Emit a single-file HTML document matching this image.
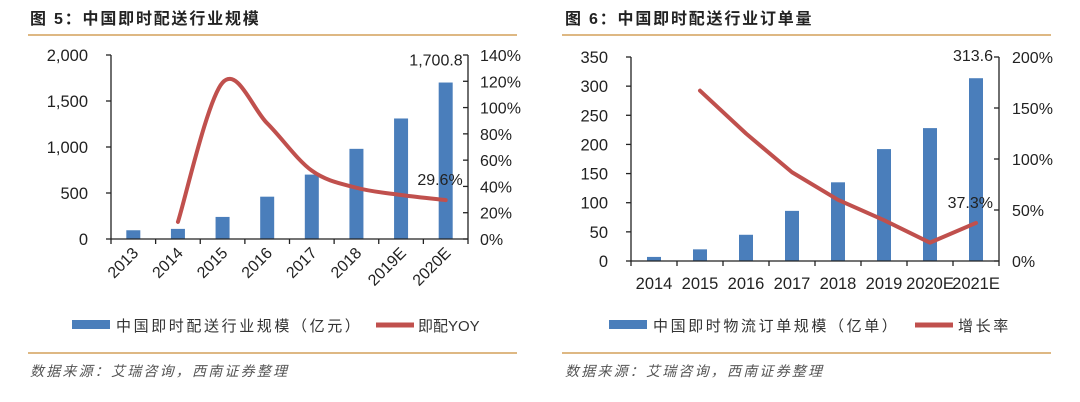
<!DOCTYPE html>
<html><head><meta charset="utf-8"><style>
body{margin:0;background:#fff;}
svg{display:block;font-family:"Liberation Sans","Noto Sans CJK SC",sans-serif;}
</style></head><body>
<svg id="s" width="1080" height="402" viewBox="0 0 1080 402">
<g>
<text x="30" y="24" font-size="16" font-weight="bold" letter-spacing="1.8" fill="#222">图 5：中国即时配送行业规模</text>
<line x1="28" y1="35" x2="517" y2="35" stroke="#d4a05a" stroke-width="1.5"/>
<line x1="28" y1="353" x2="517" y2="353" stroke="#d4a05a" stroke-width="1.5"/>
<text x="30" y="376" font-size="14" font-style="italic" letter-spacing="2.2" fill="#555">数据来源：艾瑞咨询，西南证券整理</text>
<rect x="72" y="320" width="38" height="9" fill="#4a7ebb"/>
<text x="116" y="331" font-size="15" letter-spacing="2.6" fill="#333">中国即时配送行业规模（亿元）</text>
<line x1="376" y1="325" x2="414" y2="325" stroke="#c0504d" stroke-width="5"/>
<text x="418" y="331" font-size="15" fill="#333">即配YOY</text>
</g>
<g>
<text x="565" y="24" font-size="16" font-weight="bold" letter-spacing="1.8" fill="#222">图 6：中国即时配送行业订单量</text>
<line x1="562" y1="35" x2="1051" y2="35" stroke="#d4a05a" stroke-width="1.5"/>
<line x1="562" y1="353" x2="1051" y2="353" stroke="#d4a05a" stroke-width="1.5"/>
<text x="565" y="376" font-size="14" font-style="italic" letter-spacing="2.2" fill="#555">数据来源：艾瑞咨询，西南证券整理</text>
<rect x="609" y="320" width="38" height="9" fill="#4a7ebb"/>
<text x="653" y="331" font-size="15" letter-spacing="2.6" fill="#333">中国即时物流订单规模（亿单）</text>
<line x1="915" y1="325" x2="953" y2="325" stroke="#c0504d" stroke-width="5"/>
<text x="958" y="331" font-size="15" letter-spacing="2.6" fill="#333">增长率</text>
</g>
</svg>
<script>
const cats1=["2013","2014","2015","2016","2017","2018","2019E","2020E"];
const bars1=[95,110,240,460,700,980,1310,1700.8];
const yoy1=[null,13,119,88,52,39,33.5,29.6];
const leftTicks1=[0,500,1000,1500,2000];
const leftTickLabels1=["0","500","1,000","1,500","2,000"];
const rightTicks1=[0,20,40,60,80,100,120,140];

const cats2=["2014","2015","2016","2017","2018","2019","2020E","2021E"];
const bars2=[7,20,45,86,135,192,228,313.6];
const yoy2=[null,167,125,87,60,40,18,37.3];
const leftTicks2=[0,50,100,150,200,250,300,350];
const rightTicks2=[0,50,100,150,200];

const svg=document.getElementById('s');
const NS='http://www.w3.org/2000/svg';
function mk(tag,attrs,parent){const e=document.createElementNS(NS,tag);for(const k in attrs)e.setAttribute(k,attrs[k]);(parent||svg).appendChild(e);return e;}
function txt(x,y,s,size,anchor,parent){const t=mk('text',{x:x,y:y,'font-size':size,'text-anchor':anchor,fill:'#222'},parent);t.textContent=s;return t;}

function chart(o){
  const g=mk('g',{});
  
  
  const n=o.cats.length, cw=(o.x1-o.x0)/n;
  const xc=i=>o.x0+cw*(i+0.5);
  const yL=v=>o.yb-(v/o.lmax)*(o.yb-o.yt);
  const yR=v=>o.yb-(v/o.rmax)*(o.yb-o.yt);
  o.bars.forEach((v,i)=>{
    const r=mk('rect',{x:xc(i)-7,y:yL(v),width:14,height:o.yb-yL(v),fill:'#4a7ebb'},g);
    
    
  });
  const ax=mk('g',{stroke:'#222','stroke-width':1.3},g);
  
  
  mk('line',{x1:o.x0,y1:o.yt,x2:o.x0,y2:o.yb},ax);
  mk('line',{x1:o.x1,y1:o.yt,x2:o.x1,y2:o.yb},ax);
  mk('line',{x1:o.x0,y1:o.yb,x2:o.x1,y2:o.yb},ax);
  for(let i=0;i<=n;i++){const x=o.x0+cw*i;mk('line',{x1:x,y1:o.yb,x2:x,y2:o.yb+5},ax);}
  o.lt.forEach((v,i)=>{mk('line',{x1:o.x0-5,y1:yL(v),x2:o.x0,y2:yL(v)},ax);
    const t=txt(o.x0-23,yL(v)+6,o.ltl[i],16.5,'end',g);
    
    });
  o.rt.forEach(v=>{mk('line',{x1:o.x1-5,y1:yR(v),x2:o.x1,y2:yR(v)},ax);
    const t=txt(o.x1+o.rgap,yR(v)+6,v+'%',16,'start',g);
    
    });
  o.cats.forEach((c,i)=>{
    let t;
    if(o.rot){t=txt(xc(i)+6,o.yb+15,c,16,'end',g);t.setAttribute('transform','rotate(-45 '+(xc(i)+6)+' '+(o.yb+15)+')');}
    else t=txt(xc(i),o.yb+28,c,16.5,'middle',g);
    
    
  });
  const pts=[];o.yoy.forEach((v,i)=>{if(v!==null)pts.push([xc(i),yR(v)]);});
  let d='M'+pts[0][0]+','+pts[0][1];
  for(let i=0;i<pts.length-1;i++){
    if(o.smooth){
      const p0=pts[Math.max(i-1,0)],p1=pts[i],p2=pts[i+1],p3=pts[Math.min(i+2,pts.length-1)];
      const c1=[p1[0]+(p2[0]-p0[0])/6,p1[1]+(p2[1]-p0[1])/6],c2=[p2[0]-(p3[0]-p1[0])/6,p2[1]-(p3[1]-p1[1])/6];
      d+=' C'+c1+' '+c2+' '+p2;
    } else d+=' L'+pts[i+1];
  }
  const l=mk('path',{d:d,fill:'none',stroke:'#c0504d','stroke-width':4,'stroke-linecap':'round','stroke-linejoin':'round'},g);
  
  
  const last=n-1;
  const a=txt(xc(last)+17,yL(o.bars[last])-17,o.barLabel,16,'end',g);
  
  
  const b=txt(xc(last)+17,yR(o.yoy[last])-15,o.yoy[last]+'%',16,'end',g);
  
  
}
chart({name:'chart5-plot',cats:cats1,bars:bars1,yoy:yoy1,x0:111,x1:468,yt:55,yb:239,lmax:2000,rmax:140,lt:leftTicks1,ltl:leftTickLabels1,rt:rightTicks1,rgap:12,rot:true,smooth:true,barLabel:'1,700.8'});
chart({name:'chart6-plot',cats:cats2,bars:bars2,yoy:yoy2,x0:631,x1:999,yt:57,yb:261,lmax:350,rmax:200,lt:leftTicks2,ltl:leftTicks2.map(String),rt:rightTicks2,rgap:13,rot:false,smooth:false,barLabel:'313.6'});
</script>
</body></html>
